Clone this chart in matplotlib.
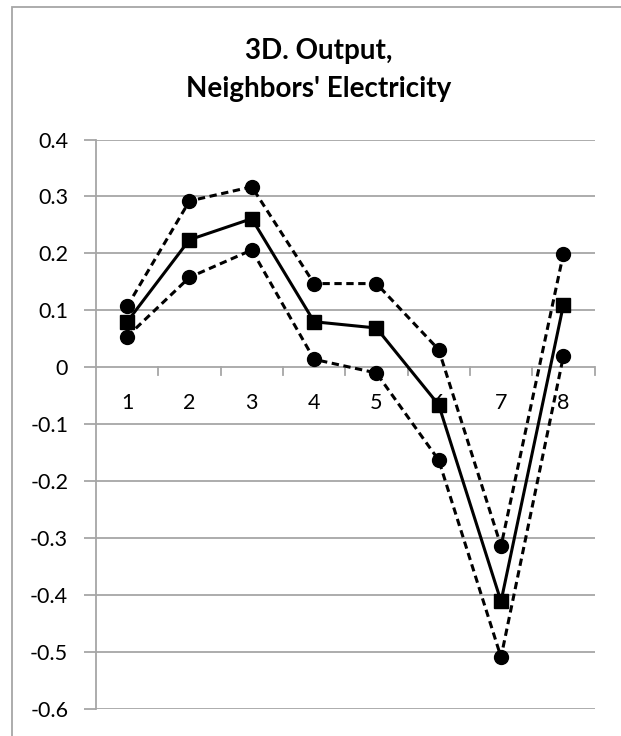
import matplotlib.pyplot as plt
from matplotlib.patches import Rectangle

# category positions and the three series (estimate plus upper / lower bands)
categories = ["1", "2", "3", "4", "5", "6", "7", "8"]
estimate = [0.080, 0.224, 0.261, 0.080, 0.069, -0.066, -0.411, 0.109]
upper = [0.107, 0.292, 0.317, 0.147, 0.147, 0.031, -0.314, 0.199]
lower = [0.054, 0.158, 0.206, 0.014, -0.010, -0.163, -0.509, 0.019]
y_ticks = [-0.6, -0.5, -0.4, -0.3, -0.2, -0.1, 0, 0.1, 0.2, 0.3, 0.4]
y_labels = ["-0.6", "-0.5", "-0.4", "-0.3", "-0.2", "-0.1", "0", "0.1", "0.2", "0.3", "0.4"]

plt.rcParams["font.family"] = ["Lato", "DejaVu Sans"]

fig = plt.figure(figsize=(6.21, 7.36), dpi=100)
W, H = 621, 736
ax = fig.add_axes([96 / W, 1 - 709 / H, (594.5 - 96) / W, (709 - 139.5) / H])

# outer chart frame (only top and left edges fall inside the image)
fig.patches.append(Rectangle((12 / W, -0.1), 1.2, 1 - 7 / H + 0.1, transform=fig.transFigure,
                             fill=False, edgecolor="#a6a6a6", linewidth=1.3))

grid_col = "#a6a6a6"
x = [i + 0.5 for i in range(len(categories))]

dash = (0, (2.4, 1.5))
ax.plot(x, upper, color="black", linestyle=dash, linewidth=2.2, marker="o", markersize=10)
ax.plot(x, lower, color="black", linestyle=dash, linewidth=2.2, marker="o", markersize=10)
ax.plot(x, estimate, color="black", linestyle="-", linewidth=2.2, marker="s", markersize=10.5)

ax.set_xlim(0, len(categories))
ax.set_ylim(-0.6, 0.4)

# horizontal gridlines
for v in y_ticks:
    ax.axhline(v, color=grid_col, linewidth=1.3, zorder=0)

for s in ["top", "right", "bottom"]:
    ax.spines[s].set_visible(False)
ax.spines["left"].set_color(grid_col)
ax.spines["left"].set_linewidth(1.3)

ax.set_yticks(y_ticks)
ax.set_yticklabels(y_labels, fontsize=15.5)
ax.tick_params(axis="y", length=9, width=1.3, color=grid_col, pad=11)
ax.set_xticks([])

# category axis crossing at zero, with tick marks below it
for i in range(1, len(categories) + 1):
    ax.plot([i, i], [0, -0.014], color=grid_col, linewidth=1.3, zorder=0, clip_on=False)
for xi, lab in zip(x, categories):
    ax.text(xi, -0.062, lab, ha="center", va="center", fontsize=15.5)

fig.text(319 / W, 1 - 70 / H, "3D. Output,\nNeighbors' Electricity", ha="center", va="center",
         fontsize=20, fontweight="bold", linespacing=1.6)

fig.savefig("out.png", dpi=100)
